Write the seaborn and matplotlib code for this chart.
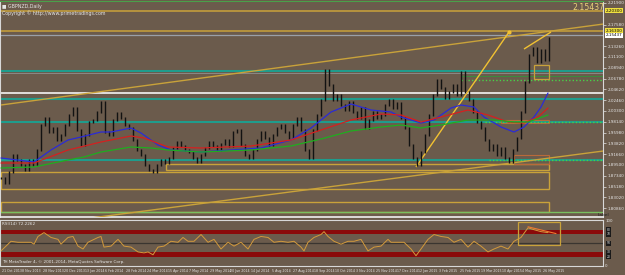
import numpy as np
import pandas as pd
import matplotlib
matplotlib.use("Agg")
import matplotlib.pyplot as plt
import matplotlib.transforms as mtrans
from matplotlib.patches import Rectangle
import seaborn as sns

# ---------------- data ----------------
symbol_title = "GBPNZD,Daily"
copyright_top = "Copyright © http://www.primetradings.com"
copyright_bottom = "TH MetaTrader 4, © 2001-2014, MetaQuotes Software Corp."
rsi_title = "RSI(14) 72.2262"
last_price = 2.15437

# closes sampled about every 3 trading days
closes = [1.869, 1.859, 1.881, 1.915, 1.905, 1.895, 1.885, 1.905, 1.895, 1.925,
          1.975, 1.989, 1.961, 1.969, 1.945, 1.955, 1.975, 1.995, 2.009, 1.965,
          1.935, 1.955, 1.981, 1.985, 2.001, 2.021, 1.961, 1.955, 1.985, 1.999,
          1.989, 1.975, 1.969, 1.945, 1.925, 1.915, 1.895, 1.885, 1.881, 1.895,
          1.905, 1.899, 1.909, 1.929, 1.941, 1.933, 1.925, 1.921, 1.909, 1.901,
          1.915, 1.929, 1.941, 1.933, 1.925, 1.937, 1.945, 1.933, 1.961, 1.965,
          1.935, 1.915, 1.909, 1.925, 1.945, 1.961, 1.949, 1.935, 1.955, 1.969,
          1.975, 1.961, 1.949, 1.975, 1.989, 1.965, 1.925, 1.909, 1.965, 1.995,
          2.025, 2.085, 2.055, 2.025, 2.035, 2.015, 2.005, 2.021, 2.001, 1.989,
          2.009, 1.969, 1.985, 2.001, 1.989, 1.995, 2.015, 2.025, 2.009, 2.019,
          1.989, 1.969, 1.935, 1.909, 1.895, 1.921, 1.955, 1.995, 2.035, 2.065,
          2.049, 2.029, 2.041, 2.055, 2.035, 2.081, 2.041, 2.025, 2.001, 1.981,
          1.969, 1.945, 1.925, 1.935, 1.915, 1.929, 1.909, 1.901, 1.925, 1.949,
          2.001, 2.061, 2.115, 2.129, 2.101, 2.125, 2.105, 2.149]

blue_pos = [0, 8.25, 12.5, 16.75, 20, 25, 27.5, 32.5, 35, 39.25, 42.5, 50, 57.5, 65,
            72.5, 77.5, 82.5, 87.5, 92.5, 97.5, 100, 105, 108.25, 112.5, 115, 118.25,
            120.75, 125, 128.25, 130.75, 133.25, 135, 136.75]
blue_ma = [1.909, 1.901, 1.925, 1.945, 1.951, 1.961, 1.961, 1.969, 1.959, 1.935, 1.925,
           1.921, 1.925, 1.929, 1.945, 1.969, 2.001, 2.017, 2.005, 2.001, 1.991, 1.979,
           1.985, 2.009, 2.015, 2.011, 1.991, 1.971, 1.961, 1.971, 1.991, 2.011, 2.039]
red_pos = [0, 8.25, 16.75, 25, 32.5, 35.75, 41.75, 50, 62.5, 72.5, 80, 87.5, 95, 100,
           105, 110, 116.75, 121.75, 126.75, 130.75, 134.25, 136.75]
red_ma = [1.899, 1.899, 1.925, 1.941, 1.953, 1.949, 1.931, 1.929, 1.933, 1.945, 1.965,
          1.985, 1.997, 1.995, 1.981, 1.991, 2.005, 1.995, 1.981, 1.979, 1.991, 2.009]
green_pos = [0, 8.25, 16.75, 20.75, 25, 32.5, 37.5, 41.75, 50, 62.5, 72.5, 80, 87.5, 95,
             100, 105, 110, 116.75, 123.25, 128.25, 131.75, 136.75]
green_ma = [1.889, 1.891, 1.905, 1.911, 1.921, 1.931, 1.929, 1.925, 1.921, 1.925, 1.933,
            1.947, 1.963, 1.971, 1.975, 1.969, 1.975, 1.985, 1.985, 1.981, 1.981, 1.995]

rsi_pos = [0, 2.5, 4.25, 5.75, 7.5, 8.25, 9.25, 10.75, 12.5, 14.25, 15, 16.75, 18, 19.25,
           20.5, 21.75, 24.25, 25, 25.75, 27.5, 29.25, 30.75, 32.5, 34.25, 35.75, 36.75,
           38, 39.25, 40.75, 42.5, 44.25, 45.5, 46.75, 48.25, 50, 51.75, 53.25, 55,
           56.75, 58.25, 60, 61.75, 63.25, 65, 66.75, 68.25, 70, 71.75, 73.25, 75,
           75.75, 76.75, 78.25, 80, 80.75, 81.75, 83.25, 85, 86.75, 88.25, 90, 91.75,
           93.25, 95, 96.75, 97.5, 99.25, 100.75, 102.5, 103.75, 105, 106.75, 108.25,
           110, 111.75, 113.25, 115, 116.75, 118.25, 120, 121.75, 123.25, 125, 126.75,
           128.25, 130, 131.75, 133.25, 135, 136.75]
rsi_val = [32.9, 54.3, 52.1, 52.1, 52.1, 47.9, 65.0, 73.5, 62.8, 58.6, 47.9, 62.8, 65.0,
           43.6, 37.2, 52.1, 62.8, 65.0, 41.4, 43.6, 58.6, 43.6, 41.4, 30.7, 28.6, 30.7,
           24.3, 41.4, 43.6, 54.3, 52.1, 62.8, 54.3, 54.3, 69.3, 52.1, 58.6, 37.2, 52.1,
           43.6, 52.1, 37.2, 58.6, 65.0, 62.8, 52.1, 54.3, 52.1, 54.3, 41.4, 32.9, 52.1,
           62.8, 69.3, 75.7, 65.0, 54.3, 47.9, 54.3, 54.3, 58.6, 32.9, 41.4, 43.6, 58.6,
           52.1, 52.1, 52.1, 37.2, 22.2, 37.2, 58.6, 69.3, 65.0, 62.8, 52.1, 58.6, 41.4,
           54.3, 43.6, 30.7, 37.2, 43.6, 37.2, 54.3, 62.8, 84.2, 80.0, 75.7, 73.5]

date_labels = ["21 Oct 2013", "8 Nov 2013", "28 Nov 2013", "20 Dec 2013", "13 Jan 2014",
               "6 Feb 2014", "28 Feb 2014", "24 Mar 2014", "15 Apr 2014", "7 May 2014",
               "29 May 2014", "20 Jun 2014", "14 Jul 2014", "5 Aug 2014", "27 Aug 2014",
               "18 Sep 2014", "10 Oct 2014", "3 Nov 2014", "25 Nov 2014", "17 Dec 2014",
               "12 Jan 2015", "3 Feb 2015", "25 Feb 2015", "19 Mar 2015", "10 Apr 2015",
               "4 May 2015", "26 May 2015"]

# horizontal levels
gold_levels = [2.203, 2.163]
teal_levels = [2.083, 2.027, 1.981, 1.905]
white_level = 2.039
green_dotted_levels = [2.065, 1.981, 1.905]
green_dotted_from = [115, 121, 122]
green_solid_level = 2.073

# trend lines: (x0, p0, x1, p1)
long_trend = (0, 2.015, 152.5, 2.179)
low_trend = (22.5, 1.789, 152.5, 1.925)
steep_trend = (103.75, 1.891, 127, 2.161)
short_trend = (130.75, 2.127, 137.5, 2.161)

# rectangles: (x0, x1, p_low, p_high)
gold_boxes = [(41.25, 137, 1.886, 1.897), (0, 137, 1.847, 1.881), (0, 137, 1.801, 1.821)]
orange_boxes = [(128.25, 137, 1.897, 1.915), (125, 137, 1.979, 1.985)]
yellow_box = (133.25, 137, 2.067, 2.095)

rsi_levels = [20, 30, 50, 70, 80]
rsi_box = (129.25, 139.75, 45.7, 97.1)
rsi_trend = (131.75, 86.4, 138.75, 71.4)

# ---------------- styling ----------------
sns.set_theme(style="dark")
plt.rcParams['font.family'] = ['DejaVu Sans']

BG = '#6b5b4c'
FG = '#e6e6e6'
TEAL = '#1f9c8c'
GOLD = '#c9a23a'
YEL = '#f2c232'

fig = plt.figure(figsize=(6.25, 2.75), dpi=100, facecolor=BG)
ax = fig.add_axes([0.0, 1 - 217 / 275, 603 / 625, 216 / 275])
axr = fig.add_axes([0.0, 1 - 266 / 275, 603 / 625, 46 / 275])

for a in (ax, axr):
    a.set_facecolor(BG)
    a.grid(False)
    a.set_xlim(-0.25, 150.5)
    for s in a.spines.values():
        s.set_color('#d8d8d8')
        s.set_linewidth(0.8)
ax.spines['top'].set_color('#4aa04a')
ax.spines['bottom'].set_color('#f0f0f0')
ax.spines['bottom'].set_linewidth(1.2)

ax.set_ylim(1.791, 2.223)

# levels
x_end = 150.5
for lv in gold_levels:
    ax.hlines(lv, -0.25, x_end, color=GOLD, lw=1.1, zorder=1)
ax.hlines(last_price, -0.25, x_end, color='#9aa0a8', lw=0.9, zorder=1)
for lv in teal_levels:
    ax.hlines(lv, -0.25, x_end, color=TEAL, lw=1.5, zorder=1)
ax.hlines(teal_levels[0] - 0.004, -0.25, x_end, color='#8f8f8f', lw=0.6, zorder=1)
ax.hlines(white_level, -0.25, x_end, color='#f4f4f4', lw=1.2, zorder=1)
ax.hlines(green_solid_level, 115, x_end, color='#3d8a3d', lw=0.8, zorder=1)
for lv, x0 in zip(green_dotted_levels, green_dotted_from):
    ax.hlines(lv, x0, x_end, color='#48d048', lw=1.0, linestyles=(0, (1, 1.5)), zorder=2)

for x0, x1, p0, p1 in gold_boxes:
    ax.add_patch(Rectangle((x0, p0), x1 - x0, p1 - p0, fill=False, ec=GOLD, lw=1.0, zorder=1))
ax.hlines(gold_boxes[2][2], -0.25, x_end, color='#7ac060', lw=1.0, zorder=1)
for x0, x1, p0, p1 in orange_boxes:
    ax.add_patch(Rectangle((x0, p0), x1 - x0, p1 - p0, fill=False, ec='#b86a3a', lw=0.8, zorder=1))

# trend lines
for (x0, p0, x1, p1), col, lw in [(long_trend, GOLD, 1.0), (low_trend, GOLD, 1.0),
                                  (steep_trend, YEL, 1.0), (short_trend, YEL, 1.0)]:
    ax.plot([x0, x1], [p0, p1], color=col, lw=lw, zorder=3, solid_capstyle='butt')
ax.plot([steep_trend[2]], [steep_trend[3]], 'o', color=YEL, ms=2, zorder=4)
x0, x1, p0, p1 = yellow_box
ax.add_patch(Rectangle((x0, p0), x1 - x0, p1 - p0, fill=False, ec=GOLD, lw=0.9, zorder=4))

# candles (open = previous close)
c = np.array(closes)
o = np.concatenate([[c[0]], c[:-1]])
pos = np.arange(len(c))
ax.vlines(pos, np.minimum(o, c) - 0.002, np.maximum(o, c) + 0.002,
          color='#121212', lw=1.0, zorder=5)

# moving averages
df_ma = pd.concat([
    pd.DataFrame({'x': blue_pos, 'y': blue_ma, 'ma': 'fast'}),
    pd.DataFrame({'x': red_pos, 'y': red_ma, 'ma': 'mid'}),
    pd.DataFrame({'x': green_pos, 'y': green_ma, 'ma': 'slow'}),
])
sns.lineplot(data=df_ma, x='x', y='y', hue='ma', sort=False, estimator=None,
             palette={'fast': '#2b2bd6', 'mid': '#d42020', 'slow': '#1fae1f'},
             lw=0.9, legend=False, ax=ax, zorder=6)

# axes ticks (main)
ax.set_xlabel('')
ax.set_ylabel('')
ax.set_xticks([])
ax.yaxis.tick_right()
tags = [gold_levels[0], gold_levels[1], last_price]
yt = [2.2190 - 0.0216 * k for k in range(20)]
yt = [t for t in yt if min(abs(t - g) for g in tags) > 0.009]
ax.set_yticks(yt)
ax.set_yticklabels([f"{t:.5f}" for t in yt])
ax.tick_params(axis='y', labelsize=3.0, colors=FG, length=2, width=0.5, pad=1.5)
ax.set_ylim(1.791, 2.223)

trans = mtrans.blended_transform_factory(ax.transAxes, ax.transData)
for val, txt, fc in [(gold_levels[0], "2.20300", '#f0e040'), (gold_levels[1], "2.16300", '#f0e040'),
                     (last_price, f"{last_price:.5f}", '#ffffff')]:
    ax.text(1.004, val, txt, transform=trans, fontsize=3.0, color='black', va='center',
            ha='left', bbox=dict(boxstyle='square,pad=0.12', fc=fc, ec='none'), zorder=10,
            clip_on=False)

ax.text(0.004, 0.985, "\u25a0 " + symbol_title, transform=ax.transAxes, fontsize=3.4,
        color=FG, va='top', ha='left')
ax.text(0.004, 0.955, copyright_top, transform=ax.transAxes, fontsize=3.4,
        color=FG, va='top', ha='left')
fig.text(572 / 625, 1 - 8 / 275, f"{last_price:.5f}", fontsize=5.6, color='#ead27a',
         va='center', ha='left')
fig.text(598 / 625, 1 - 215 / 275, "Label", fontsize=3.2, color='#202020', va='center', ha='left')

# ---------------- RSI panel ----------------
axr.set_ylim(-0.5, 101.5)
axr.axhspan(rsi_levels[3], rsi_levels[4], color='#8a0a0a', lw=0, zorder=1)
axr.axhspan(rsi_levels[0], rsi_levels[1], color='#8a0a0a', lw=0, zorder=1)
axr.axhline(rsi_levels[2], color='#3a3530', lw=0.9, zorder=1)
sns.lineplot(x=rsi_pos, y=rsi_val, sort=False, estimator=None, color='#d39a3c',
             lw=0.7, ax=axr, zorder=3)
x0, x1, r0, r1 = rsi_box
axr.add_patch(Rectangle((x0, r0), x1 - x0, r1 - r0, fill=False, ec=GOLD, lw=0.9, zorder=4))
axr.plot([rsi_trend[0], rsi_trend[2]], [rsi_trend[1], rsi_trend[3]], color='#f07a30', lw=0.8, zorder=5)
axr.text(0.004, 0.96, rsi_title, transform=axr.transAxes, fontsize=3.0, color=FG, va='top')
axr.text(0.004, 0.09, copyright_bottom, transform=axr.transAxes, fontsize=3.0, color=FG, va='center')

axr.yaxis.tick_right()
axr.set_yticks([0, 100])
axr.set_yticklabels(["0", "100"])
axr.tick_params(axis='y', labelsize=2.8, colors=FG, length=0, pad=1.5)
transr = mtrans.blended_transform_factory(axr.transAxes, axr.transData)
for lv in rsi_levels:
    axr.text(1.006, lv, str(lv), transform=transr, fontsize=2.2, color=FG, va='center', ha='left',
             bbox=dict(boxstyle='square,pad=0.1', fc='#1a1a1a', ec='none'), clip_on=False)

tick_pos = [0.25] + [5.25 + 5.2125 * k for k in range(len(date_labels) - 1)]
axr.set_xticks(tick_pos)
axr.set_xticklabels(date_labels, ha='left')
axr.tick_params(axis='x', labelsize=2.35, colors=FG, length=1.5, width=0.5, pad=0.6)
axr.set_xlabel('')
axr.set_ylabel('')

fig.savefig("out.png", dpi=100, facecolor=BG)
